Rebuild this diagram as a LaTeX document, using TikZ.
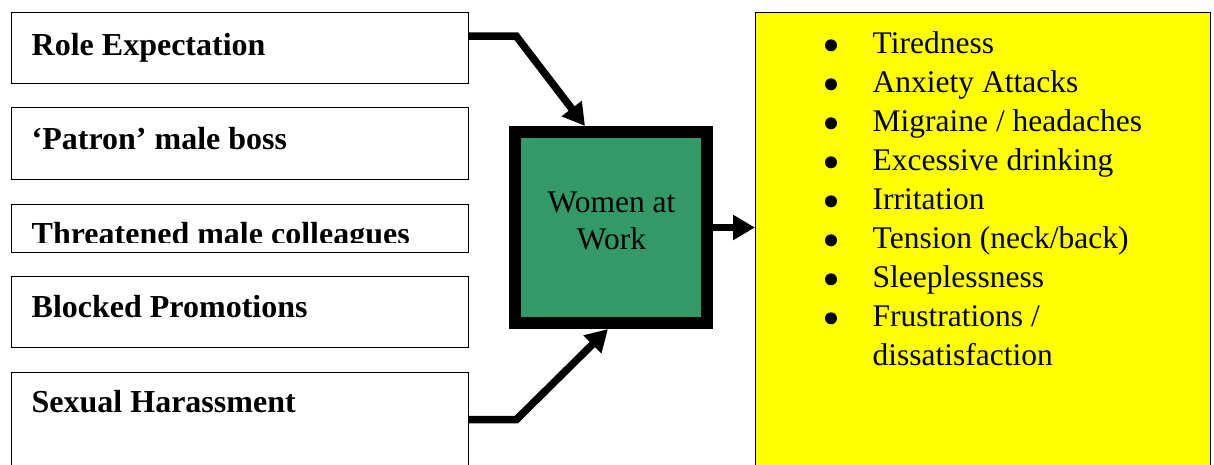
\documentclass[tikz,border=0pt]{standalone}
\usepackage{fontspec}
\setmainfont{Liberation Serif}
\usetikzlibrary{arrows.meta,calc}
\definecolor{seagreen}{RGB}{51,153,102}
\definecolor{yel}{RGB}{255,255,0}
\definecolor{blk}{RGB}{0,0,0}
\begin{document}
\begin{tikzpicture}[x=1pt,y=-1pt,
  lbox/.style={draw=blk, line width=1.3pt, fill=white, minimum width=457pt, inner sep=0pt, anchor=north west, rectangle},
  ltext/.style={anchor=base west, inner sep=0pt, text=blk, font=\bfseries\fontsize{32}{38}\selectfont},
  conn/.style={draw=blk, line width=7.5pt, -{Triangle[length=22pt,width=24pt]}, line join=miter},
  listfont/.style={text=blk, font=\fontsize{31.5}{39}\selectfont},
  bulletdot/.style={fill=blk}
]
\clip (0,0) rectangle (1214,464);
\fill[white] (0,0) rectangle (1214,464);

% left boxes
\node[lbox, minimum height=71.3pt] (b1) at (10.5,11.7) {};
\node[lbox, minimum height=72pt] (b2) at (10.5,107) {};
\node[lbox, minimum height=48pt] (b3) at (10.5,204) {};
\node[lbox, minimum height=71pt] (b4) at (10.5,276) {};
\node[lbox, minimum height=110pt] (b5) at (10.5,372) {};

\node[ltext] (t1) at (31.5,55) {Role Expectation};
\node[ltext] (t2) at (31.5,149) {‘Patron’ male boss};
\begin{scope}
  \clip (10,204) rectangle (468,242.5);
  \node[ltext] (t3) at (31.5,244) {Threatened male colleagues};
\end{scope}
\node[ltext] (t4) at (31.5,317) {Blocked Promotions};
\node[ltext] (t5) at (31.5,412) {Sexual Harassment};

% central box
\node[draw=blk, line width=12pt, fill=seagreen, minimum width=192pt, minimum height=191pt, inner sep=0pt] (w) at (611,227.5) {};
\node[text=blk, font=\fontsize{31.5}{37}\selectfont, align=center, inner sep=0pt] (wt) at (611.5,221) {Women at\\Work};

% right box
\node[draw=blk, line width=1.3pt, fill=yel, minimum width=455pt, minimum height=470pt, anchor=north west, inner sep=0pt] (y) at (755,11.7) {};
\node[listfont, anchor=base west, inner sep=0pt] (list) at (872.5,53.3) {%
\begin{tabular}[t]{@{}l@{}}
Tiredness\\
Anxiety Attacks\\
Migraine / headaches\\
Excessive drinking\\
Irritation\\
Tension (neck/back)\\
Sleeplessness\\
Frustrations /\\
dissatisfaction
\end{tabular}};
\foreach \i in {0,...,7}
  \fill[bulletdot] (831,{45.3+39*\i}) circle (6pt);

% connectors
\draw[conn] ([yshift=11.85pt]b1.east) -- ++(47.5,0) -- ([xshift=-26pt]w.north);
\draw[conn] ([yshift=8pt]b5.east) -- ++(47.5,0) -- ([xshift=-3pt]w.south);
\draw[conn] (w.east) -- (w.east -| y.west);
\end{tikzpicture}
\end{document}
